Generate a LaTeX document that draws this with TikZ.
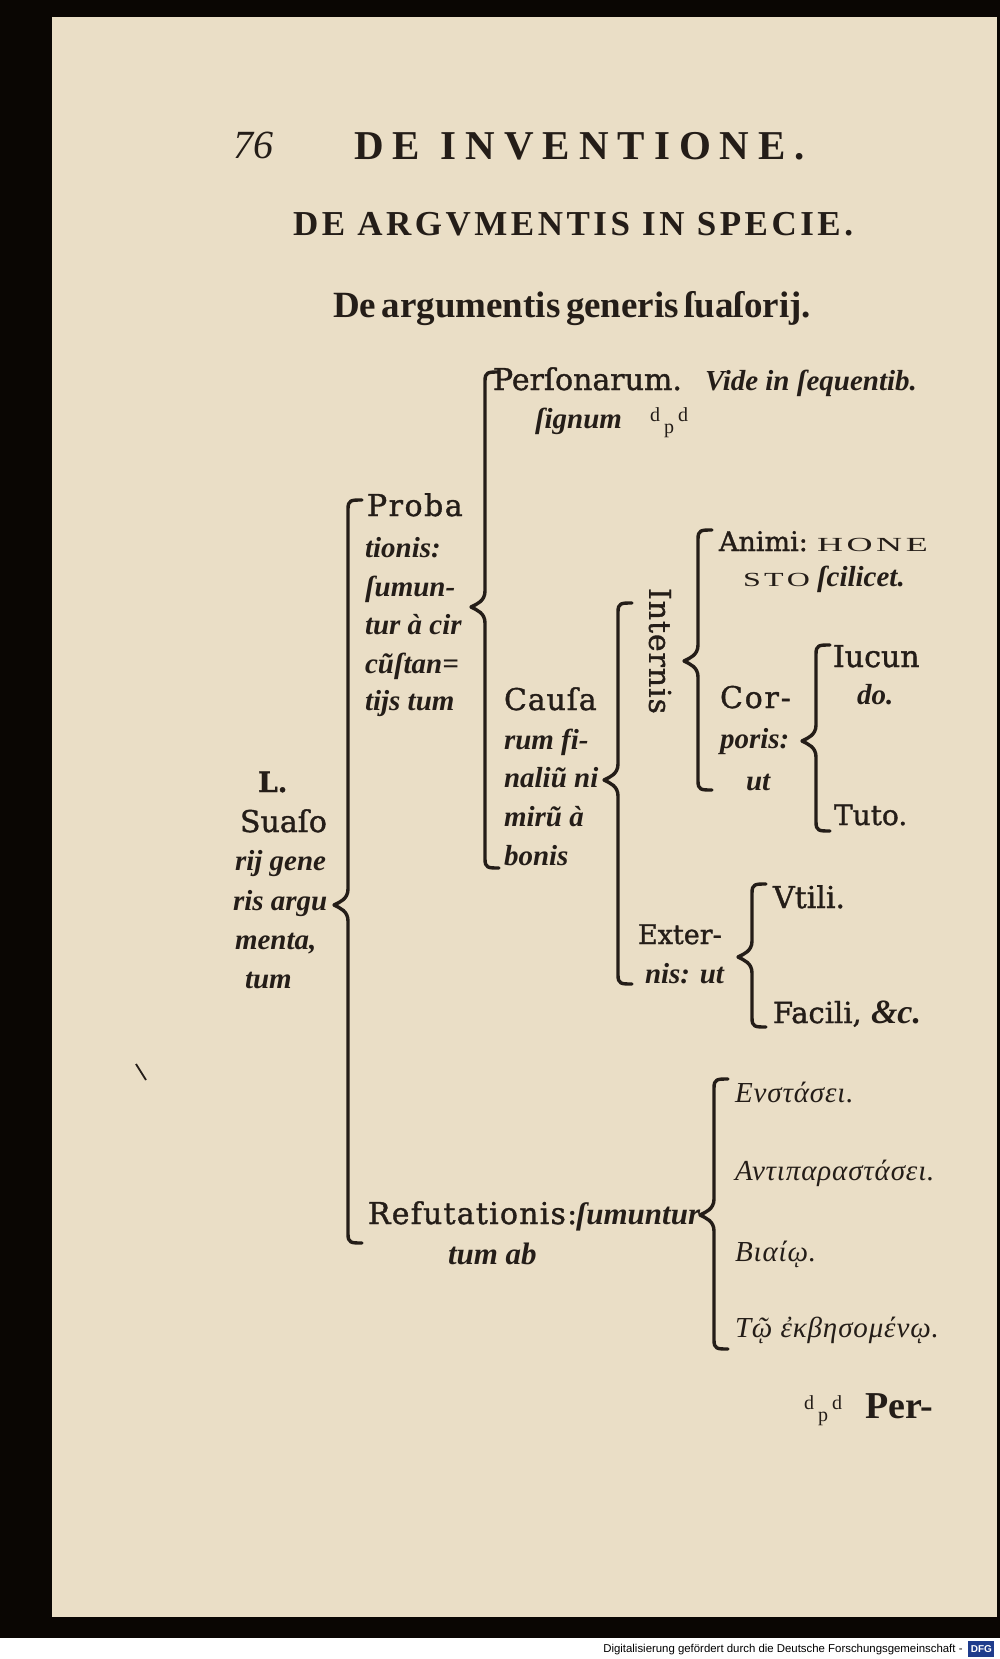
\documentclass[tikz,border=0pt]{standalone}
\usepackage{fontspec}
\setmainfont{Liberation Serif}
\newfontfamily\sansf{Liberation Sans}
\newfontfamily\dvs{DejaVu Serif}
\usetikzlibrary{calc}
\definecolor{paper}{RGB}{234,222,198}
\definecolor{ink}{RGB}{36,29,24}
\definecolor{dfgblue}{RGB}{30,60,140}
\newcommand\rmS[2]{\normalfont\dvs\fontsize{#1}{18}\selectfont\addfontfeatures{LetterSpace=#2,FakeBold=1.2}}
\newcommand\itB{\normalfont\fontsize{14.5}{16}\selectfont\bfseries\itshape}
\newcommand\grB{\normalfont\fontsize{14.5}{16}\selectfont\itshape\addfontfeatures{LetterSpace=3}}
\newcommand\scB{\normalfont\fontsize{10}{11}\selectfont}
\newcommand\dpd{\normalfont\fontsize{10}{11}\selectfont d\hspace{2pt}\raisebox{-6pt}{p}\hspace{2pt}d}
\newcommand\bracer[5]{%
  \coordinate (#1-t) at (#2,#3);
  \coordinate (#1-m) at (#2,#4);
  \coordinate (#1-b) at (#2,#5);
  \coordinate (#1-p) at ($(#1-m)+(-14,0)$);
  \draw[brk] ($(#1-t)+(14,0)$) .. controls ($(#1-t)+(3,0)$) and (#1-t) .. ($(#1-t)+(0,9)$)
     -- ($(#1-m)+(0,-16)$) .. controls ($(#1-m)+(0,-6)$) and ($(#1-p)+(6,-3)$) .. (#1-p)
     .. controls ($(#1-p)+(6,3)$) and ($(#1-m)+(0,6)$) .. ($(#1-m)+(0,16)$)
     -- ($(#1-b)+(0,-9)$) .. controls (#1-b) and ($(#1-b)+(3,0)$) .. ($(#1-b)+(14,0)$);
}
\tikzset{
  txt/.style={inner sep=0pt, outer sep=0pt, text=ink, anchor=base west},
  brk/.style={draw=ink, line width=1.7pt, line cap=round, line join=round},
}
\begin{document}
\begin{tikzpicture}[x=0.5pt,y=-0.5pt]
\useasboundingbox (0,0) rectangle (1000,1659);
% page and surroundings
\fill[black!95!brown] (0,0) rectangle (1000,1638);
\fill[white] (0,1638) rectangle (1000,1659);
\fill[paper] (52,17) rectangle (997,1617);
% header
\node[txt] (pg) at (233,158) {\normalfont\fontsize{20}{22}\selectfont\itshape 76};
\node[txt] (t1) at (354,159) {\normalfont\fontsize{20.5}{22}\selectfont\bfseries\addfontfeatures{LetterSpace=22}DE\hspace{0.5em}INVENTIONE.};
\node[txt] (t2) at (293,235) {\normalfont\fontsize{17.5}{20}\selectfont\bfseries\addfontfeatures{LetterSpace=10}DE ARGVMENTIS IN SPECIE.};
\node[txt] (t3) at (333,317) {\normalfont\fontsize{18.5}{20}\selectfont\bfseries De\hspace{.15em}argumentis\hspace{.15em}generis\hspace{.15em}ſuaſorij.};
% Personarum
\node[txt] (pers) at (493,390) {\rmS{15}{0}Perſonarum.};
\node[txt] (vide) at (705,390) {\itB Vide in ſequentib.};
\node[txt] (sign) at (535,428) {\itB ſignum};
\node[txt] (sgn) at (650,421) {\dpd};
% Probationis
\node[txt] (prob1) at (367,516) {\rmS{15}{5}Proba};
\node[txt] (prob2) at (365,557) {\itB tionis:};
\node[txt] (prob3) at (365,596) {\itB ſumun-};
\node[txt] (prob4) at (365,634) {\itB tur à cir};
\node[txt] (prob5) at (365,673) {\itB cũſtan=};
\node[txt] (prob6) at (365,710) {\itB tijs tum};
% root
\node[txt] (L1) at (258,792) {\rmS{14}{0}\bfseries L.};
\node[txt] (L2) at (240,832) {\rmS{15}{0}Suaſo};
\node[txt] (L3) at (235,870) {\itB rij gene};
\node[txt] (L4) at (233,910) {\itB ris argu};
\node[txt] (L5) at (235,949) {\itB menta,};
\node[txt] (L6) at (245,988) {\itB tum};
% Causarum
\node[txt] (c1) at (504,710) {\rmS{15}{3}Cauſa};
\node[txt] (c2) at (504,749) {\itB rum fi-};
\node[txt] (c3) at (504,787) {\itB naliũ ni};
\node[txt] (c4) at (504,826) {\itB mirũ à};
\node[txt] (c5) at (504,865) {\itB bonis};
% Internis
\node[txt, anchor=center, rotate=-90] (int) at (660,651) {\rmS{15}{3}Internis};
\node[txt] (an1) at (719,551) {\rmS{13.5}{0}Animi:};
\node[txt] (an2) at (817,551) {\scalebox{1.8}[1]{\scB H\hspace{1pt}O\hspace{1pt}N\hspace{1pt}E}};
\node[txt] (an3) at (743,586) {\scalebox{1.6}[1]{\scB S\hspace{1pt}T\hspace{1pt}O}};
\node[txt] (an4) at (817,586) {\itB ſcilicet.};
\node[txt] (co1) at (720,708) {\rmS{15}{6}Cor-};
\node[txt] (co2) at (720,748) {\itB poris:};
\node[txt] (co3) at (746,790) {\itB ut};
\node[txt] (iu1) at (833,667) {\rmS{15}{0}Iucun};
\node[txt] (iu2) at (857,704) {\itB do.};
\node[txt] (tu) at (834,825) {\rmS{14}{0}Tuto.};
% Externis
\node[txt] (ex1) at (638,944) {\rmS{13.5}{0}Exter-};
\node[txt] (ex2) at (645,983) {\itB nis: ut};
\node[txt] (vt) at (773,908) {\rmS{15}{0}Vtili.};
\node[txt] (fa) at (773,1023) {\rmS{14.5}{0}Facili,};
\node[txt] (fa2) at (871,1023) {\normalfont\fontsize{17}{18}\selectfont\bfseries\itshape\&c.};
% Refutationis
\node[txt] (re1) at (368,1224) {\rmS{15}{4}Refutationis:};
\node[txt] (re2) at (576,1224) {\normalfont\fontsize{15.5}{16}\selectfont\bfseries\itshape ſumuntur};
\node[txt] (re3) at (448,1264) {\normalfont\fontsize{15.5}{16}\selectfont\bfseries\itshape tum ab};
\node[txt] (gr1) at (735,1102) {\grB Ενστάσει.};
\node[txt] (gr2) at (735,1180) {\grB Αντιπαραστάσει.};
\node[txt] (gr3) at (735,1261) {\grB Βιαίῳ.};
\node[txt] (gr4) at (735,1337) {\grB Τῷ ἐκβησομένῳ.};
% catchword
\node[txt] (cw1) at (804,1409) {\dpd};
\node[txt] (cw2) at (865,1418) {\normalfont\fontsize{19}{20}\selectfont\bfseries Per-};
% braces
\bracer{bm}{348}{500}{905}{1243}
\bracer{bp}{485}{372}{607}{868}
\bracer{bc}{618}{603}{780}{984}
\bracer{bi}{698}{530}{661}{790}
\bracer{bk}{816}{645}{741}{831}
\bracer{be}{752}{884}{957}{1027}
\bracer{br}{714}{1079}{1215}{1349}
% stray mark
\draw[ink, line width=0.9pt] (136,1064) -- (146,1080);
% footer
\node[anchor=base east, inner sep=0pt] (dfgtxt) at (963,1652) {\sansf\fontsize{5.7}{6}\selectfont Digitalisierung gefördert durch die Deutsche Forschungsgemeinschaft -};
\node[fill=dfgblue, text=white, inner sep=1pt, minimum width=13pt, minimum height=8pt, anchor=west] (dfg) at (968,1649) {\sansf\bfseries\fontsize{5}{5}\selectfont DFG};
\end{tikzpicture}
\end{document}
